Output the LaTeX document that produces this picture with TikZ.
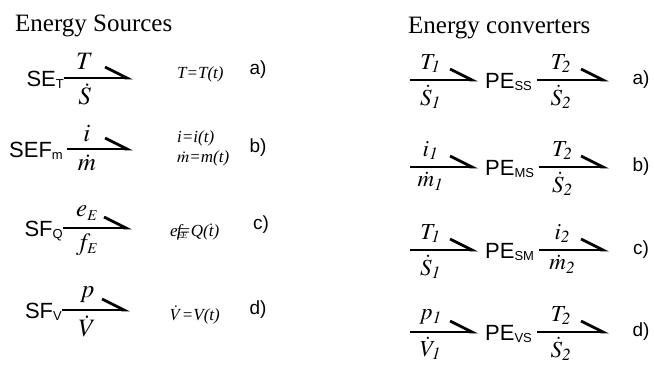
\documentclass[tikz,border=0pt]{standalone}
\usepackage{mathptmx}
\usepackage{fontspec}
\setmainfont{Liberation Serif}
\setsansfont{Liberation Sans}
\usetikzlibrary{positioning,arrows.meta}
\newcommand{\bname}[2]{#1\raisebox{-2pt}{\fontsize{13}{13}\selectfont #2}}

\begin{document}
\begin{tikzpicture}[x=1pt, y=-1pt,
  bond/.style={line width=2.8pt, -{Straight Barb[harpoon, length=22pt, width=22pt, line width=2.8pt]}},
  elem/.style={inner sep=0pt, font=\sffamily\fontsize{22}{24}\selectfont},
  var/.style={inner sep=0pt, font=\fontsize{25}{27}\selectfont},
  rvar/.style={var, font=\fontsize{23}{25}\selectfont},
  rel/.style={inner sep=0pt, anchor=west, font=\itshape\fontsize{17}{18}\selectfont},
  tagl/.style={inner sep=0pt, font=\sffamily\fontsize{19}{21}\selectfont},
  head/.style={inner sep=0pt, anchor=base west, font=\fontsize{25}{28}\selectfont}]
  \useasboundingbox (0,0) rectangle (654,365);
  \node[head] (srcs) at (15,31) {Energy Sources};
  \node[head] (convs) at (408,33) {Energy converters};
  % sources
  \node[elem, anchor=base east] (seT) at (64,86) {\bname{SE}{T}};
  \coordinate (seTtip) at (133,78);
  \draw[bond] (seT.east |- seTtip) -- node[var, pos=.3, above=7pt] {$T$} node[var, pos=.3, below=4pt] {$\dot S$} (seTtip);
  \node[rel] (relA) at (177,74) {T=T(t)};
  \node[tagl] (tagA) at (258,70) {a)};
  \node[elem, anchor=base east] (sef) at (63,157) {\bname{SEF}{m}};
  \coordinate (seftip) at (133,149);
  \draw[bond] ([xshift=4pt]sef.east |- seftip) -- node[var, pos=.3, above=6pt] {$i$} node[var, pos=.3, below=4pt] {$\dot m$} (seftip);
  \node[rel] (relB1) at (177,138) {i=i(t)};
  \node[rel] (relB2) at (177,158) {$\dot m$=m(t)};
  \node[tagl] (tagB) at (258,148) {b)};
  \node[elem, anchor=base east] (sfq) at (63,236) {\bname{SF}{Q}};
  \coordinate (sfqtip) at (132,228);
  \draw[bond] (sfq.east |- sfqtip) -- node[var, pos=.35, above=6pt] {$e_{\scriptscriptstyle E}$} node[var, pos=.35, below=4pt] {$f_{\scriptscriptstyle E}$} (sfqtip);
  \node[rel] (relC) at (170,232) {e\kern-1pt f\kern-4pt\raisebox{-2pt}{\fontsize{9}{9}\selectfont E\kern-1pt E}\kern-8pt=Q($\dot{\textit{t}}$)};
  \node[tagl] (tagC) at (261,225) {c)};
  \node[elem, anchor=base east] (sfv) at (62,318) {\bname{SF}{V}};
  \coordinate (sfvtip) at (130,310);
  \draw[bond] (sfv.east |- sfvtip) -- node[var, pos=.37, above=6pt] {$p$} node[var, pos=.37, below=4pt] {$\dot V$} (sfvtip);
  \node[rel] (relD) at (170,315) {$\dot V$=V(t)};
  \node[tagl] (tagD) at (258,310) {d)};
  % converters
  \foreach \y/\nm/\sub/\ea/\fa/\eb/\fb/\tg in {
    80/ss/SS/T_{\mathit{1}}/\dot S_{\mathit{1}}/T_{\mathit{2}}/\dot S_{\mathit{2}}/a),
    167/ms/MS/i_{\mathit{1}}/\dot m_{\mathit{1}}/T_{\mathit{2}}/\dot S_{\mathit{2}}/b),
    250/sm/SM/T_{\mathit{1}}/\dot S_{\mathit{1}}/i_{\mathit{2}}/\dot m_{\mathit{2}}/c),
    332/vs/VS/p_{\mathit{1}}/\dot V_{\mathit{1}}/T_{\mathit{2}}/\dot S_{\mathit{2}}/d)} {
    \coordinate (in\nm) at (410,\y);
    \node[elem, anchor=base west] (pe\nm) at (485,\y+8) {\bname{PE}{\sub}};
    \coordinate (out\nm) at (609,\y);
    \draw[bond] (in\nm) -- node[rvar, pos=.3, above=6pt] {$\ea$} node[rvar, pos=.3, below=4pt] {$\fa$} ([xshift=-7pt]pe\nm.west |- in\nm);
    \draw[bond] ([xshift=5pt]pe\nm.east |- in\nm) -- node[rvar, pos=.33, above=6pt] {$\eb$} node[rvar, pos=.33, below=4pt] {$\fb$} (out\nm);
    \node[tagl] (tag\nm) at (641,\y) {\tg};
  }
\end{tikzpicture}
\end{document}
